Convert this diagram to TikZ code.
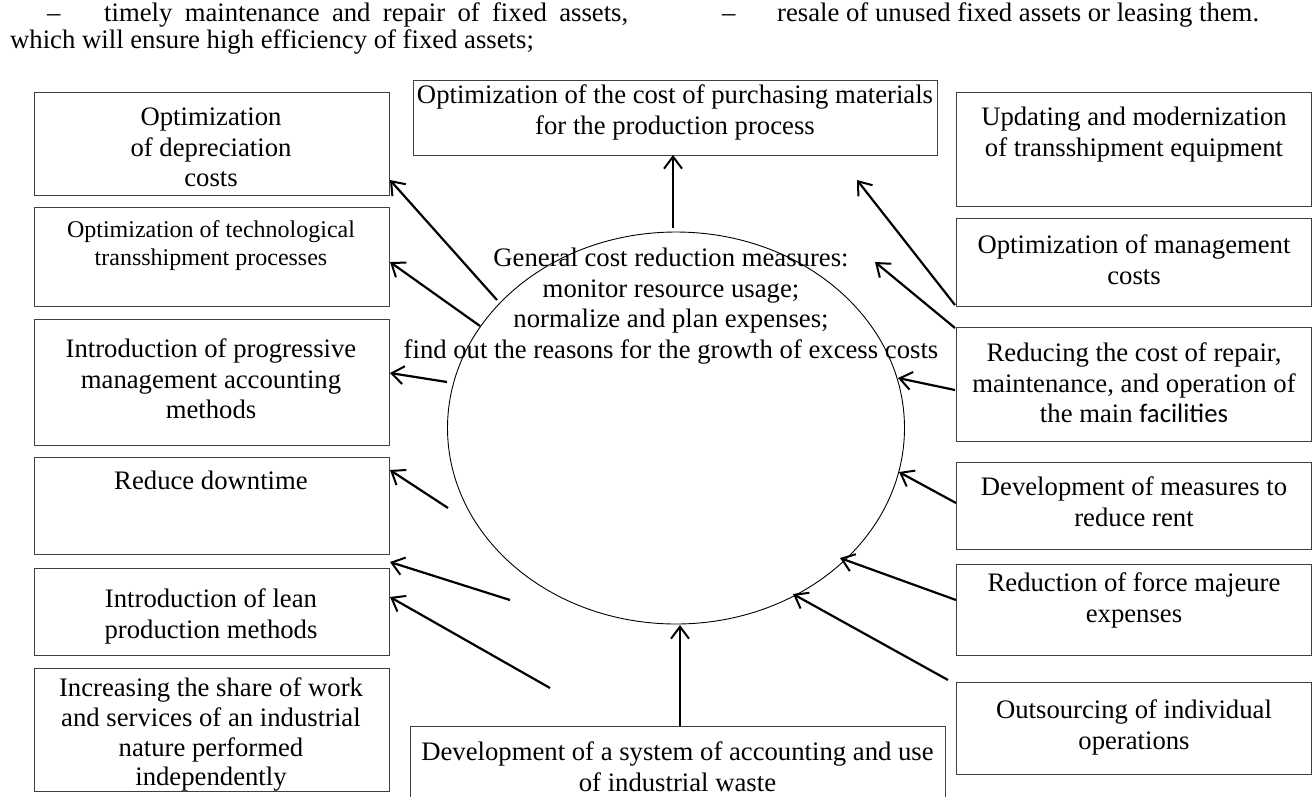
\documentclass[tikz,border=0pt]{standalone}
\usepackage{fontspec}
\setmainfont{Liberation Serif}
\newfontfamily\calibrifont{Carlito}
\usetikzlibrary{arrows.meta,shapes.geometric}
\definecolor{boxgray}{HTML}{404040}

\begin{document}
\begin{tikzpicture}[x=1pt,y=-1pt,
  box/.style={draw=boxgray, line width=1.2pt, inner sep=0pt, anchor=north west},
  txt/.style={align=center, inner sep=0pt, anchor=north, font=\fontsize{26.7}{30.4}\selectfont},
  smalltxt/.style={txt, font=\fontsize{24}{28}\selectfont},
  tighttxt/.style={txt, font=\fontsize{26.7}{29.6}\selectfont},
  toptxt/.style={inner sep=0pt, anchor=base west, font=\fontsize{26.7}{30.4}\selectfont},
  arr/.style={line width=2.2pt, -{Straight Barb[length=12pt,width=18pt,line width=2pt]}},
]
\path[use as bounding box] (0,0) rectangle (1312,796);

% running text above the scheme
\node[toptxt] (d1) at (47,21) {–};
\node[toptxt] (t1) at (104,21) {\makebox[524pt][s]{timely maintenance and repair of fixed assets,}};
\node[toptxt] (t2) at (10,48) {which will ensure high efficiency of fixed assets;};
\node[toptxt] (d2) at (722,21) {–};
\node[toptxt] (t3) at (777,21) {resale of unused fixed assets or leasing them.};

% central ellipse
\node[draw, ellipse, line width=0.9pt, inner sep=0pt, minimum width=457pt, minimum height=392pt] (ell) at (676,428) {};
\node[txt] (gen) at (671,245.5) {\strut General cost reduction measures:\\monitor resource usage;\\normalize and plan expenses;\\find out the reasons for the growth of excess costs};

% top box
\node[box, minimum width=524pt, minimum height=75pt] (tb) at (413,80) {};
\node[txt] (tbt) at (675,82.5) {\strut Optimization of the cost of purchasing materials\\for the production process};

% left column
\node[box, minimum width=355pt, minimum height=103pt] (l1) at (34,92) {};
\node[txt] (l1t) at (211,104.5) {\strut Optimization\\of depreciation\\costs};
\node[box, minimum width=355pt, minimum height=99pt] (l2) at (34,207) {};
\node[smalltxt] (l2t) at (211,217.7) {\strut Optimization of technological\\transshipment processes};
\node[box, minimum width=355pt, minimum height=126pt] (l3) at (34,319) {};
\node[txt] (l3t) at (211,336.5) {\strut Introduction of progressive\\management accounting\\methods};
\node[box, minimum width=355pt, minimum height=97pt] (l4) at (34,457) {};
\node[txt] (l4t) at (211,468.5) {\strut Reduce downtime};
\node[box, minimum width=355pt, minimum height=87pt] (l5) at (34,568) {};
\node[txt] (l5t) at (211,586.5) {\strut Introduction of lean\\production methods};
\node[box, minimum width=355pt, minimum height=123pt] (l6) at (34,668) {};
\node[tighttxt] (l6t) at (211,676) {\strut Increasing the share of work\\and services of an industrial\\nature performed\\independently};

% right column
\node[box, minimum width=355pt, minimum height=114pt] (r1) at (956,92) {};
\node[txt] (r1t) at (1134,104.5) {\strut Updating and modernization\\of transshipment equipment};
\node[box, minimum width=355pt, minimum height=88pt] (r2) at (956,218) {};
\node[txt] (r2t) at (1134,232.5) {\strut Optimization of management\\costs};
\node[box, minimum width=355pt, minimum height=114pt] (r3) at (956,327) {};
\node[txt] (r3t) at (1134,340.5) {\strut Reducing the cost of repair,\\maintenance, and operation of\\the main {\calibrifont facilities}};
\node[box, minimum width=355pt, minimum height=87pt] (r4) at (956,462) {};
\node[txt] (r4t) at (1134,474.5) {\strut Development of measures to\\reduce rent};
\node[box, minimum width=355pt, minimum height=91pt] (r5) at (956,564) {};
\node[txt] (r5t) at (1134,570.5) {\strut Reduction of force majeure\\expenses};
\node[box, minimum width=355pt, minimum height=92pt] (r6) at (956,682) {};
\node[txt] (r6t) at (1134,697.5) {\strut Outsourcing of individual\\operations};

% bottom box
\node[box, minimum width=535pt, minimum height=100pt] (bb) at (410,726) {};
\node[txt] (bbt) at (677.5,739.5) {\strut Development of a system of accounting and use\\of industrial waste};

% arrow ends
\coordinate (a1s) at (673,228);  \coordinate (a1t) at (673,155);
\coordinate (a2s) at (497,300);  \coordinate (a2t) at (390,180);
\coordinate (a3s) at (480,326);  \coordinate (a3t) at (390,262);
\coordinate (a4s) at (447,382);  \coordinate (a4t) at (390,373);
\coordinate (a5s) at (448,508);  \coordinate (a5t) at (390,470);
\coordinate (a6s) at (510,600);  \coordinate (a6t) at (390,562);
\coordinate (a7s) at (550,688);  \coordinate (a7t) at (390,597);
\coordinate (a8s) at (680,726);  \coordinate (a8t) at (680,625);
\coordinate (a9s) at (948,680);  \coordinate (a9t) at (793,594);
\coordinate (a10s) at (956,600); \coordinate (a10t) at (840,558);
\coordinate (a11s) at (956,503); \coordinate (a11t) at (899,472);
\coordinate (a12s) at (955,390); \coordinate (a12t) at (898,378);
\coordinate (a13s) at (955,328); \coordinate (a13t) at (875,262);
\coordinate (a14s) at (955,305); \coordinate (a14t) at (857,180);

\foreach \i in {1,...,14} {
  \draw[arr] (a\i s) -- (a\i t);
}
\end{tikzpicture}
\end{document}
